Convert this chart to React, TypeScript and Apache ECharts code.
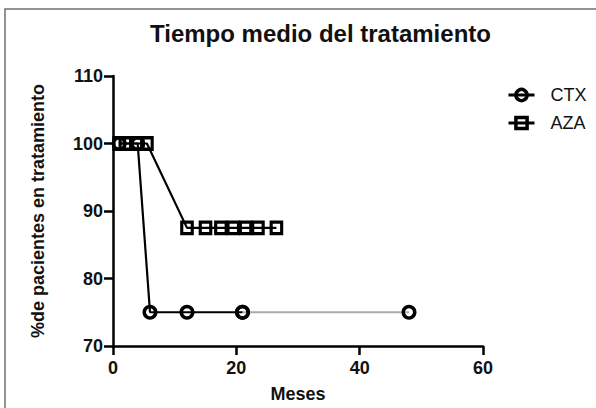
import React, { useEffect, useRef } from "react";
import * as echarts from "echarts";

const titleText = "Tiempo medio del tratamiento";
const xName = "Meses";
const yName = "%de pacientes en tratamiento";
const xTicks = [0, 20, 40, 60];
const yTicks = [70, 80, 90, 100, 110];
const seriesNames = ["CTX", "AZA"];
const ctxMonths = [1, 4, 6, 12, 21];
const ctxValues = [100, 100, 75, 75, 75];
const ctxTailMonths = [21, 48];
const ctxTailValues = [75, 75];
const azaMonths = [1, 2, 4, 5.5, 12, 15, 17.5, 19.5, 21.5, 23.5, 26.5];
const azaValues = [100, 100, 100, 100, 87.5, 87.5, 87.5, 87.5, 87.5, 87.5, 87.5];

const FONT = "'Liberation Sans', Arial, sans-serif";
const INK = "#111";

function pairs(xs: number[], ys: number[]) {
  return xs.map((x, i) => [x, ys[i]]);
}

export default function App() {
  const ref = useRef<HTMLDivElement>(null);
  useEffect(() => {
    document.body.style.margin = "0";
    if (!ref.current) return;
    const chart = echarts.init(ref.current, null, { renderer: "svg" });
    const circleStyle = {
      color: "rgba(255,255,255,0)",
      borderColor: "#000",
      borderWidth: 3.5,
    };
    const squareStyle = {
      color: "rgba(255,255,255,0)",
      borderColor: "#000",
      borderWidth: 3.3,
    };
    chart.setOption({
      animation: false,
      backgroundColor: "#fff",
      title: {
        text: titleText,
        left: 150,
        top: 21,
        padding: 0,
        textStyle: { fontFamily: FONT, fontWeight: "bold", fontSize: 24, color: INK },
      },
      graphic: [
        {
          type: "rect",
          shape: { x: 5, y: 9, width: 700, height: 500 },
          style: { fill: "none", stroke: "#707070", lineWidth: 1.5 },
          silent: true,
        },
      ],
      legend: {
        data: seriesNames,
        orient: "vertical",
        left: 507,
        top: 86,
        padding: 0,
        itemGap: 10,
        itemWidth: 26,
        itemHeight: 14,
        itemStyle: { borderWidth: 3.5, borderColor: "#000" },
        lineStyle: { width: 3, color: "#000" },
        textStyle: { fontFamily: FONT, fontSize: 18, color: INK, padding: [0, 0, 0, 11] },
      },
      grid: { left: 113, right: 113, top: 76, bottom: 62 },
      xAxis: {
        type: "value",
        min: xTicks[0],
        max: xTicks[xTicks.length - 1],
        interval: xTicks[1] - xTicks[0],
        name: xName,
        nameLocation: "middle",
        nameGap: 39,
        nameTextStyle: { fontFamily: FONT, fontWeight: "bold", fontSize: 18, color: INK },
        splitLine: { show: false },
        axisLine: { show: true, lineStyle: { color: "#000", width: 2.5 } },
        axisTick: { show: true, length: 9, lineStyle: { color: "#000", width: 2.5 } },
        axisLabel: { margin: 13, fontFamily: FONT, fontWeight: "bold", fontSize: 18, color: INK },
      },
      yAxis: {
        type: "value",
        min: yTicks[0],
        max: yTicks[yTicks.length - 1],
        interval: yTicks[1] - yTicks[0],
        name: yName,
        nameLocation: "middle",
        nameGap: 66,
        nameTextStyle: { fontFamily: FONT, fontWeight: "bold", fontSize: 18, color: INK },
        splitLine: { show: false },
        axisLine: { show: true, lineStyle: { color: "#000", width: 2.5 } },
        axisTick: { show: true, length: 9, lineStyle: { color: "#000", width: 2.5 } },
        axisLabel: { margin: 10, fontFamily: FONT, fontWeight: "bold", fontSize: 18, color: INK },
      },
      series: [
        {
          name: "CTX tail",
          type: "line",
          data: pairs(ctxTailMonths, ctxTailValues),
          symbol: "circle",
          symbolSize: 11.5,
          itemStyle: circleStyle,
          lineStyle: { color: "#ababab", width: 2 },
          z: 2,
        },
        {
          name: seriesNames[0],
          type: "line",
          data: pairs(ctxMonths, ctxValues),
          symbol: "circle",
          symbolSize: 11.5,
          itemStyle: circleStyle,
          lineStyle: { color: "#000", width: 2.2 },
          z: 3,
        },
        {
          name: seriesNames[1],
          type: "line",
          data: pairs(azaMonths, azaValues),
          symbol: "rect",
          symbolSize: [10.5, 11.5],
          itemStyle: squareStyle,
          lineStyle: { color: "#000", width: 2.2 },
          z: 4,
        },
      ],
    });
    return () => chart.dispose();
  }, []);
  return <div ref={ref} style={{ width: 596, height: 408 }} />;
}
